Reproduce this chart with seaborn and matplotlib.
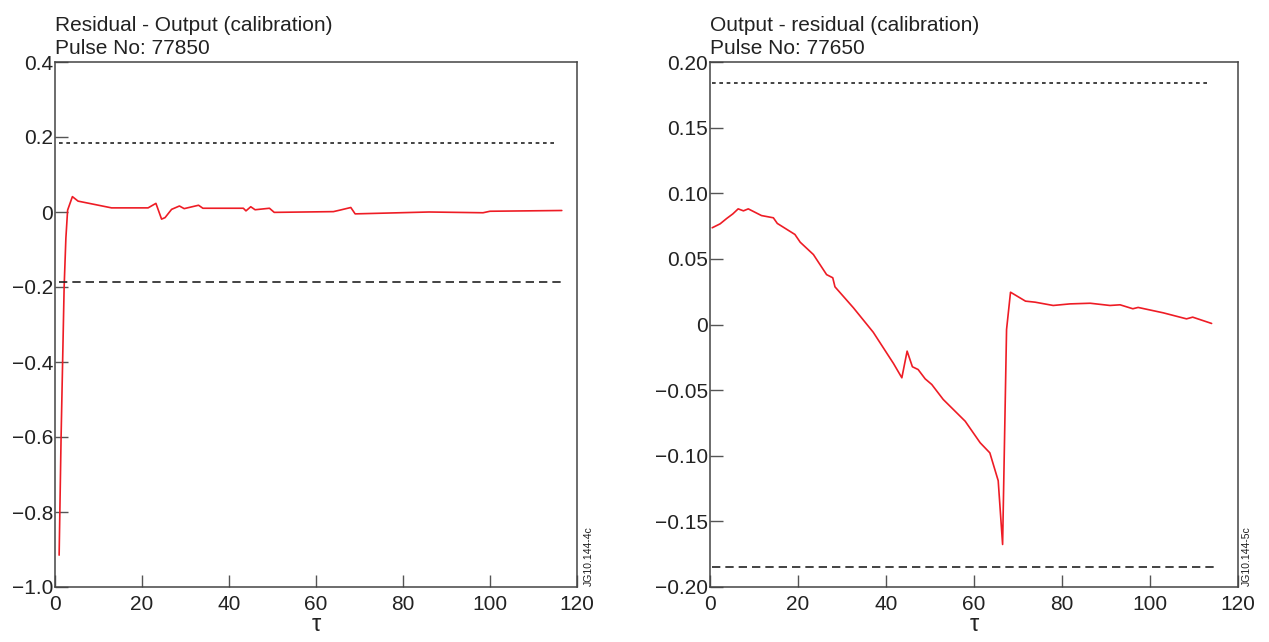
import matplotlib
matplotlib.use("Agg")
import matplotlib.pyplot as plt
import numpy as np
import pandas as pd
import seaborn as sns


# left panel: residual - output, pulse 77850
left_tau = [0.95, 1.4, 1.75, 2.1, 2.5, 2.9, 4.0, 5.3, 13.0, 21.4, 23.2, 24.5, 25.3,
            26.8, 28.6, 29.7, 33.0, 34.0, 43.3, 43.9, 45.0, 46.0, 49.3, 50.4, 64.0,
            65.5, 68.0, 69.0, 86.0, 98.4, 100.0, 116.5]
left_val = [-0.915, -0.60, -0.40, -0.20, -0.07, 0.005, 0.041, 0.029, 0.011, 0.011,
            0.023, -0.019, -0.015, 0.007, 0.016, 0.009, 0.018, 0.010, 0.010, 0.003,
            0.014, 0.006, 0.010, -0.001, 0.001, 0.005, 0.012, -0.005, 0.0, -0.002,
            0.002, 0.004]
left_upper = 0.184
left_lower = -0.187
left_upper_span = [1.0, 115.0]
left_lower_span = [1.0, 116.5]
left_yticks = [0.4, 0.2, 0.0, -0.2, -0.4, -0.6, -0.8, -1.0]
left_ylabels = ["0.4", "0.2", "0", "\u22120.2", "\u22120.4", "\u22120.6", "\u22120.8", "\u22121.0"]

# right panel: output - residual, pulse 77650
right_tau = [0.5, 2.3, 3.8, 5.2, 6.4, 7.6, 8.7, 11.7, 14.4, 15.3, 19.3, 20.5, 23.5,
             26.5, 27.9, 28.4, 32.6, 37.1, 41.7, 43.6, 44.8, 46.0, 47.3, 48.9, 50.4,
             53.0, 58.0, 61.4, 63.6, 65.5, 66.5, 67.4, 68.3, 71.7, 73.9, 78.0, 81.8,
             86.4, 90.9, 93.2, 96.1, 97.3, 103.0, 108.3, 109.7, 114.0]
right_val = [0.0737, 0.0767, 0.0808, 0.0843, 0.0881, 0.0866, 0.0881, 0.083, 0.0813,
             0.077, 0.0686, 0.0627, 0.0533, 0.038, 0.0356, 0.0287, 0.0127, -0.0059,
             -0.0297, -0.0406, -0.0203, -0.0322, -0.0343, -0.0414, -0.0457, -0.0571,
             -0.0737, -0.0901, -0.0978, -0.119, -0.1676, -0.0038, 0.0246, 0.0178,
             0.017, 0.0145, 0.0157, 0.0162, 0.0145, 0.015, 0.012, 0.013, 0.0089,
             0.0043, 0.0056, 0.0008]
right_upper = 0.184
right_lower = -0.185
right_upper_span = [0.5, 113.6]
right_lower_span = [0.5, 114.7]
right_yticks = [0.20, 0.15, 0.10, 0.05, 0.0, -0.05, -0.10, -0.15, -0.20]
right_ylabels = ["0.20", "0.15", "0.10", "0.05", "0", "\u22120.05", "\u22120.10",
                 "\u22120.15", "\u22120.20"]

xticks = [0, 20, 40, 60, 80, 100, 120]

RED = "#ee1c25"
INK = "#222222"


def draw_panel(ax, tau, val, upper, lower, up_span, lo_span, ylim, yticks, ylabels,
               title, tag, fig, tag_x):
    df = pd.DataFrame({"tau": tau, "val": val})
    sns.lineplot(data=df, x="tau", y="val", ax=ax, color=RED, lw=1.2,
                 estimator=None, sort=False)
    ax.plot(up_span, [upper, upper], color=INK, lw=1.2, linestyle=(0, (2.2, 2.2)))
    ax.plot(lo_span, [lower, lower], color=INK, lw=1.2, linestyle=(0, (5, 3)))
    ax.set_xlim(0, 120)
    ax.set_ylim(*ylim)
    ax.set_xticks(xticks)
    ax.set_xticklabels([str(t) for t in xticks])
    ax.set_yticks(yticks)
    ax.set_yticklabels(ylabels)
    ax.tick_params(direction="in", length=9, width=1.0, color="#555555",
                   labelsize=15, labelcolor=INK, left=True, bottom=True,
                   right=False, top=False)
    ax.tick_params(axis="y", pad=1.5)
    ax.tick_params(axis="x", pad=6)
    ax.set_xlabel("\u03c4", fontsize=17, labelpad=0, color=INK)
    ax.set_ylabel("")
    ax.set_title(title, loc="left", fontsize=15, pad=6, color=INK, linespacing=1.25)
    for side in ["left", "right", "top", "bottom"]:
        ax.spines[side].set_color("#444444")
        ax.spines[side].set_linewidth(1.1)
    ax.grid(False)
    fig.text(tag_x, 0.088, tag, rotation=90, ha="left", va="bottom",
             fontsize=7.5, color=INK)


sns.set_theme(style="white")
plt.rcParams["font.family"] = ["Liberation Sans", "DejaVu Sans"]

fig = plt.figure(figsize=(12.69, 6.42), dpi=100)
ax_l = fig.add_axes([55 / 1269, 55 / 642, 522 / 1269, 525 / 642])
ax_r = fig.add_axes([710 / 1269, 55 / 642, 528 / 1269, 525 / 642])

draw_panel(ax_l, left_tau, left_val, left_upper, left_lower, left_upper_span,
           left_lower_span, (-1.0, 0.4), left_yticks, left_ylabels,
           "Residual - Output (calibration)\nPulse No: 77850", "JG10.144-4c",
           fig, 584 / 1269)
draw_panel(ax_r, right_tau, right_val, right_upper, right_lower, right_upper_span,
           right_lower_span, (-0.2, 0.2), right_yticks, right_ylabels,
           "Output - residual (calibration)\nPulse No: 77650", "JG10.144-5c",
           fig, 1242 / 1269)

fig.savefig("out.png", dpi=100)
